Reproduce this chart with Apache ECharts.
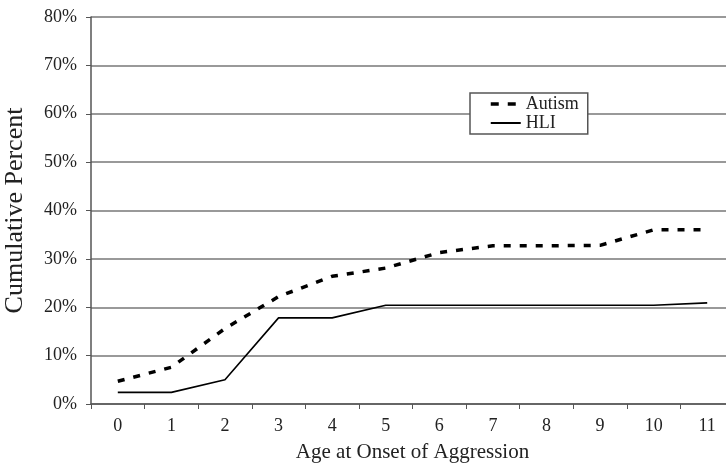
<!DOCTYPE html>
<html><head><meta charset="utf-8">
<script src="https://cdn.jsdelivr.net/npm/echarts@6/dist/echarts.min.js"></script>
<style>html,body{margin:0;padding:0;background:#fff}#c{width:726px;height:468px}</style>
</head><body><div id="c"></div>
<script>
const categories = ['0','1','2','3','4','5','6','7','8','9','10','11'];
const autism = [4.7, 7.6, 15.6, 22.2, 26.4, 28.1, 31.3, 32.7, 32.7, 32.8, 36.0, 36.0];
const hli = [2.4, 2.4, 5.0, 17.8, 17.8, 20.4, 20.4, 20.4, 20.4, 20.4, 20.4, 20.9];
const yTicks = {min: 0, max: 80, interval: 10};
const font = 'Liberation Serif';
const chart = echarts.init(document.getElementById('c'));
chart.setOption({
  animation: false,
  backgroundColor: '#fff',
  grid: {left: 91, right: -8, top: 17, bottom: 64, containLabel: false, outerBoundsMode: 'none'},
  legend: {
    orient: 'vertical', left: 470, top: 93,
    data: [
      {name: 'Autism', lineStyle: {type: [8, 9], width: 3.5}},
      {name: 'HLI'}
    ],
    backgroundColor: '#fff', borderColor: '#555', borderWidth: 1.5,
    padding: [2, 9, 2, 19], itemGap: 1, itemWidth: 30, itemHeight: 14,
    itemStyle: {opacity: 0},
    textStyle: {fontFamily: font, fontSize: 18, color: '#222'}
  },
  xAxis: {
    type: 'category', data: categories, boundaryGap: true,
    name: 'Age at Onset of Aggression', nameLocation: 'middle', nameGap: 38,
    nameTextStyle: {fontFamily: font, fontSize: 21, color: '#222'},
    axisLine: {lineStyle: {color: '#555', width: 1.5}},
    axisTick: {show: true, length: 5, lineStyle: {color: '#555'}},
    axisLabel: {fontFamily: font, fontSize: 18, color: '#222', margin: 13}
  },
  yAxis: {
    type: 'value', min: yTicks.min, max: yTicks.max, interval: yTicks.interval,
    name: 'Cumulative Percent', nameLocation: 'middle', nameGap: 63,
    nameTextStyle: {fontFamily: font, fontSize: 26, color: '#222'},
    axisLine: {show: true, lineStyle: {color: '#555', width: 1.5}},
    axisTick: {show: true, length: 5, lineStyle: {color: '#555'}},
    axisLabel: {formatter: '{value}%', fontFamily: font, fontSize: 18, color: '#222', margin: 14},
    splitLine: {lineStyle: {color: '#777', width: 1.5}}
  },
  series: [
    {name: 'Autism', type: 'line', data: autism, symbol: 'none',
     lineStyle: {color: '#000', width: 3.5, type: [7, 9]}, itemStyle: {color: '#000'}},
    {name: 'HLI', type: 'line', data: hli, symbol: 'none',
     lineStyle: {color: '#000', width: 1.6, type: 'solid'}, itemStyle: {color: '#000'}}
  ]
});
</script></body></html>
